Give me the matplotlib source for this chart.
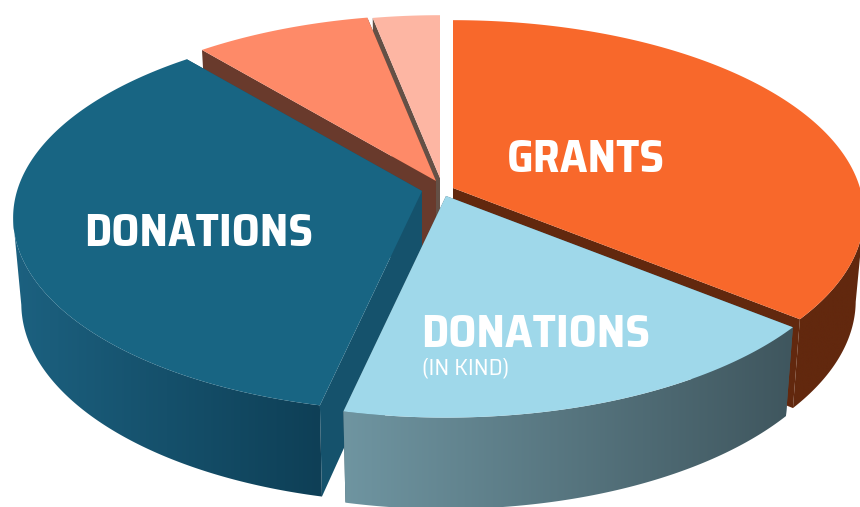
#!/usr/bin/env python
import matplotlib
matplotlib.use("Agg")
from matplotlib import pyplot as plt
from matplotlib.colors import LinearSegmentedColormap
from matplotlib.patches import Polygon
import numpy as np

labels = ["GRANTS", "DONATIONS", "DONATIONS"]
sublabel = "(IN KIND)"
# share of the pie (percent), clockwise from 12 o'clock
shares = [35.8, 17.7, 35.4, 8.0, 3.1]

# styles
top_colors = ["#f8682b", "#9fd8ea", "#186583", "#fe8a68", "#fdb6a3"]
cut_colors = ["#62280e", "#46606a", "#15526c", "#693a2c", "#645046"]
side_colors = [
    ("#62280e", "#62280e"),
    ("#6f95a1", "#3f565e"),
    ("#1c6180", "#0e3f56"),
    ("#693a2c", "#693a2c"),
    ("#645046", "#645046"),
]
# how far each slice was pulled out, in pixels from the pie centre
offsets = [(13, -2), (6, 6), (-18, 1), (-4, -9), (0, -12)]
radius_scale = [1, 1, 0.995, 0.99, 0.97]
draw_order = [4, 3, 0, 2, 1]

FONT = ["Saira SemiCondensed", "Roboto", "Liberation Sans"]
CENTER = (440, 190)
RADIUS = 407
SQUASH = 191
PERSPECTIVE = 0.138
DEPTH = 85
BOTTOM_X = 0.98
BOTTOM_Y = 1.029


def project(theta, apex, size=1, bottom=False):
    # circle seen from above, the far side a bit smaller
    x, y = np.cos(theta), np.sin(theta)
    scale = size / (1 + PERSPECTIVE * y)
    sx, sy = RADIUS * x * scale, -SQUASH * y * scale
    if bottom:
        return apex[0] + sx * BOTTOM_X, apex[1] + sy * BOTTOM_Y + DEPTH
    return apex[0] + sx, apex[1] + sy


def gradient_fill(ax, poly, colors, zorder):
    cmap = LinearSegmentedColormap.from_list("side", colors)
    patch = Polygon(poly, closed=True, fc="none", ec="none", zorder=zorder)
    ax.add_patch(patch)
    im = ax.imshow(
        np.linspace(0, 1, 256)[None, :],
        cmap=cmap,
        aspect="auto",
        extent=[poly[:, 0].min(), poly[:, 0].max(), poly[:, 1].max(), poly[:, 1].min()],
        zorder=zorder,
    )
    im.set_clip_path(patch)


fig = plt.figure(figsize=(8.6, 5.07), dpi=100, facecolor="white")
ax = fig.add_axes([0, 0, 1, 1])

edges = np.pi / 2 - np.cumsum([0] + shares) / 100 * 2 * np.pi

z = 1
for i in draw_order:
    apex = (CENTER[0] + offsets[i][0], CENTER[1] + offsets[i][1])
    t = np.linspace(edges[i], edges[i + 1], 300)

    ux, uy = project(t, apex, radius_scale[i])
    lx, ly = project(t, apex, radius_scale[i], bottom=True)

    # the two cut faces, behind the wall
    low_apex = (apex[0], apex[1] + DEPTH)
    for k in (0, -1):
        cut = [apex, (ux[k], uy[k]), (lx[k], ly[k]), low_apex]
        ax.add_patch(Polygon(cut, closed=True, fc=cut_colors[i], ec="none", zorder=z))
    z += 1

    # outer wall, only the part that faces the viewer
    front = np.sin(t) <= -PERSPECTIVE
    if front.any():
        wall = np.column_stack(
            [np.r_[ux[front], lx[front][::-1]], np.r_[uy[front], ly[front][::-1]]]
        )
        gradient_fill(ax, wall, side_colors[i], z)
    z += 1

    # top
    top = np.column_stack([np.r_[apex[0], ux], np.r_[apex[1], uy]])
    ax.add_patch(Polygon(top, closed=True, fc=top_colors[i], ec="none", zorder=z))
    z += 1

bold = dict(family=FONT, weight="bold", color="white", fontsize=33, va="baseline", zorder=z)
ax.text(507, 172, labels[0], **bold)
ax.text(421, 347, labels[1], **bold)
ax.text(84, 246, labels[2], **bold)
ax.text(422, 374, sublabel, family=FONT, color="white", fontsize=17, va="baseline", zorder=z)

ax.set_xlim(0, 860)
ax.set_ylim(507, 0)
ax.axis("off")
fig.savefig("out.png", dpi=100)
